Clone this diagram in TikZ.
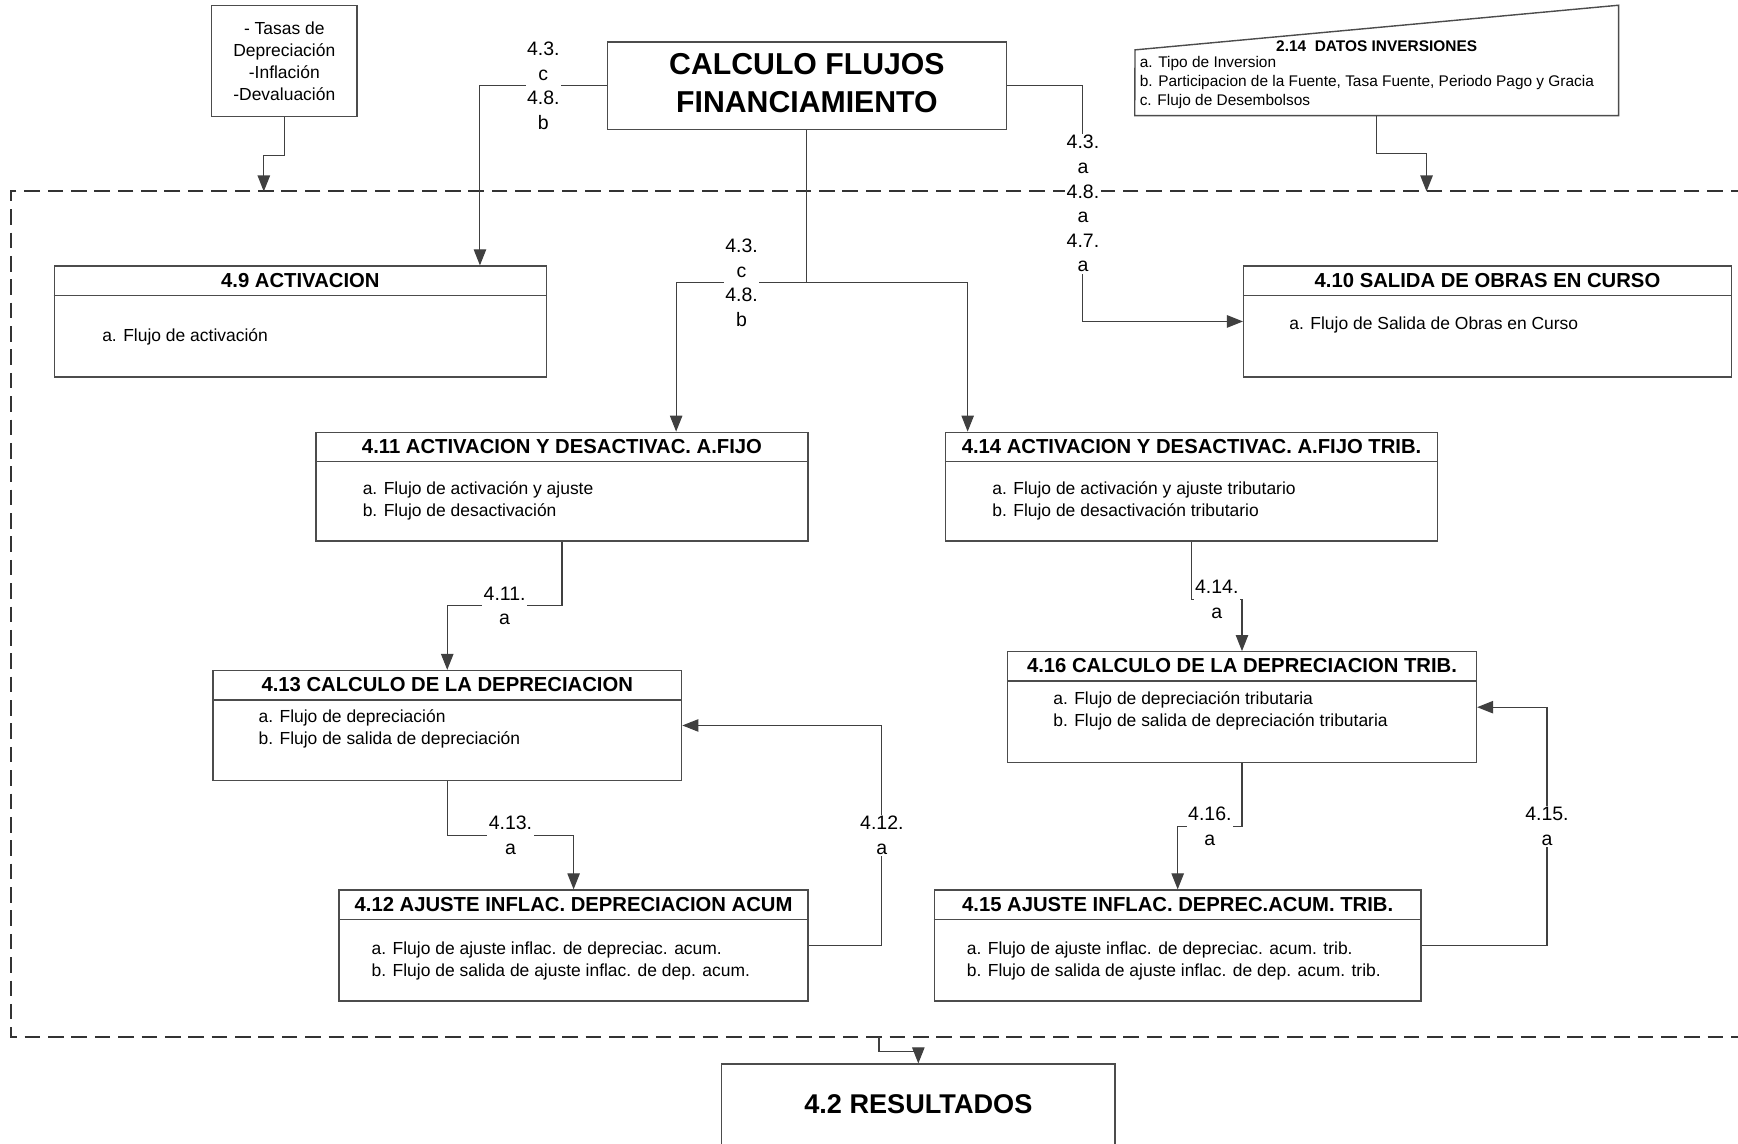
\documentclass[tikz,border=0pt]{standalone}
\usepackage{fontspec}
\setmainfont{Liberation Sans}
\usetikzlibrary{arrows.meta,fit,calc}

\begin{document}
\begin{tikzpicture}[x=2.5cm,y=-2.5cm,
  caja/.style={draw=black!70,line width=0.9pt,inner sep=0pt},
  titulo/.style={inner sep=0pt,font=\fontsize{13}{15}\selectfont\bfseries},
  texto/.style={anchor=west,align=left,inner sep=0pt,font=\fontsize{11.2}{14.2}\selectfont},
  etiq/.style={fill=white,align=center,inner sep=1pt,font=\fontsize{12.5}{15.8}\selectfont},
  linea/.style={draw=black!75,line width=0.7pt},
  flecha/.style={linea,-{Triangle[length=3.6mm,width=2.8mm]}},
  zona/.style={draw=black!80,line width=1.3pt,dash pattern=on 10pt off 5pt}]
\useasboundingbox (0,0) rectangle (15.68,10.32);

\node[fit={(0.10,1.73) (15.75,9.35)},inner sep=0pt] (zona) {};
\draw[zona] (zona.north east) -- (zona.north west) -- (zona.south west) -- (zona.south east);

\node[caja,fit={(1.91,0.05) (3.22,1.05)}] (tasas) {};
\node[align=center,inner sep=0pt,font=\fontsize{11.2}{14.2}\selectfont] (ttasas) at (2.565,0.55) {- Tasas de\\Depreciación\\-Inflación\\-Devaluación};
\node[caja,fit={(5.48,0.38) (9.08,1.17)}] (flujos) {};
\node[align=center,inner sep=0pt,font=\fontsize{19.4}{24.2}\selectfont\bfseries] (tflujos) at (7.28,0.75) {CALCULO FLUJOS\\FINANCIAMIENTO};

\node[fit={(10.24,0.05) (14.60,1.04)},inner sep=0pt] (datos) {};
\draw[caja] (datos.south west) -- (10.24,0.45) -- (datos.north east) -- (datos.south east) -- cycle;
\node[inner sep=0pt,font=\fontsize{9.9}{12}\selectfont\bfseries] (tdatos) at (12.42,0.42) {2.14\ \ DATOS INVERSIONES};
\node[texto,font=\fontsize{9.9}{12.4}\selectfont] (bdatos) at (10.28,0.745) {a. Tipo de Inversion\\b. Participacion de la Fuente, Tasa Fuente, Periodo Pago y Gracia\\c. Flujo de Desembolsos};

\node[caja,fit={(0.49,2.40) (4.93,3.40)}] (p49) {};
\node[caja,fit={(11.22,2.40) (15.62,3.40)}] (p410) {};
\node[caja,fit={(2.85,3.90) (7.29,4.88)}] (p411) {};
\node[caja,fit={(8.53,3.90) (12.97,4.88)}] (p414) {};
\node[caja,fit={(1.92,6.05) (6.15,7.04)}] (p413) {};
\node[caja,fit={(9.09,5.88) (13.32,6.88)}] (p416) {};
\node[caja,fit={(3.06,8.03) (7.29,9.03)}] (p412) {};
\node[caja,fit={(8.43,8.03) (12.82,9.03)}] (p415) {};

\foreach \p/\t in {p49/{4.9 ACTIVACION},p410/{4.10 SALIDA DE OBRAS EN CURSO},
    p411/{4.11 ACTIVACION Y DESACTIVAC. A.FIJO},p414/{4.14 ACTIVACION Y DESACTIVAC. A.FIJO TRIB.},
    p413/{4.13 CALCULO DE LA DEPRECIACION},p416/{4.16 CALCULO DE LA DEPRECIACION TRIB.},
    p412/{4.12 AJUSTE INFLAC. DEPRECIACION ACUM},p415/{4.15 AJUSTE INFLAC. DEPREC.ACUM. TRIB.}}
{
  \draw[caja] ($(\p.north west)+(0,0.27)$) -- ($(\p.north east)+(0,0.27)$);
  \node[titulo] (t\p) at ($(\p.north)+(0,0.135)$) {\t};
}

\node[texto] (b49) at (0.92,3.04) {a. Flujo de activación};
\node[texto] (b410) at (11.63,2.93) {a. Flujo de Salida de Obras en Curso};
\node[texto] (b411) at (3.27,4.52) {a. Flujo de activación y ajuste\\b. Flujo de desactivación};
\node[texto] (b414) at (8.95,4.52) {a. Flujo de activación y ajuste tributario\\b. Flujo de desactivación tributario};
\node[texto] (b413) at (2.33,6.575) {a. Flujo de depreciación\\b. Flujo de salida de depreciación};
\node[texto] (b416) at (9.50,6.41) {a. Flujo de depreciación tributaria\\b. Flujo de salida de depreciación tributaria};
\node[texto] (b412) at (3.35,8.67) {a. Flujo de ajuste inflac. de depreciac. acum.\\b. Flujo de salida de ajuste inflac. de dep. acum.};
\node[texto] (b415) at (8.72,8.67) {a. Flujo de ajuste inflac. de depreciac. acum. trib.\\b. Flujo de salida de ajuste inflac. de dep. acum. trib.};

\node[caja,fit={(6.51,9.60) (10.06,10.45)}] (res) {};
\node[inner sep=0pt,font=\fontsize{17.4}{20}\selectfont\bfseries] (tres) at (8.285,9.96) {4.2 RESULTADOS};

\draw[flecha] (tasas.south) -- ++(0,0.35) -| (2.38,0 |- zona.north);
\draw[flecha] (datos.south) -- ++(0,0.34) -| (12.87,0 |- zona.north);
\draw[flecha] (flujos.west) -| node[etiq,pos=0.25] (e1) {4.3.\\c\\4.8.\\b} (4.33,0 |- p49.north);
\draw[flecha] (flujos.east) -| node[etiq,pos=0.75] (e2) {4.3.\\a\\4.8.\\a\\4.7.\\a} (9.77,0 |- p410.west) -- (p410.west);
\coordinate (reparto) at (flujos.south |- 0,2.55);
\draw[linea] (flujos.south) -- (reparto);
\draw[flecha] (reparto) -| node[etiq,pos=0.25] (e3) {4.3.\\c\\4.8.\\b} (6.10,0 |- p411.north);
\draw[flecha] (reparto) -| (8.73,0 |- p414.north);
\draw[flecha] (p411.south) -- ++(0,0.58) -| node[etiq,pos=0.25] (e4) {4.11.\\a} (p413.north);
\draw[flecha] (p413.south) -- ++(0,0.49) -| node[etiq,pos=0.25] (e5) {4.13.\\a} (p412.north);
\draw[flecha] (p412.east) -- ++(0.66,0) |- node[etiq,pos=0.25] (e6) {4.12.\\a} (p413.east);
\draw[flecha] (p414.south) -- ++(0,0.52) -| node[etiq,pos=0.25] (e7) {4.14.\\a} (p416.north);
\draw[flecha] (p416.south) -- ++(0,0.57) -| node[etiq,pos=0.25] (e8) {4.16.\\a} (p415.north);
\draw[flecha] (p415.east) -- ++(1.13,0) |- node[etiq,pos=0.25] (e9) {4.15.\\a} (p416.east);
\draw[flecha] (7.93,0 |- zona.south) -- ++(0,0.13) -| (res.north);
\end{tikzpicture}
\end{document}
